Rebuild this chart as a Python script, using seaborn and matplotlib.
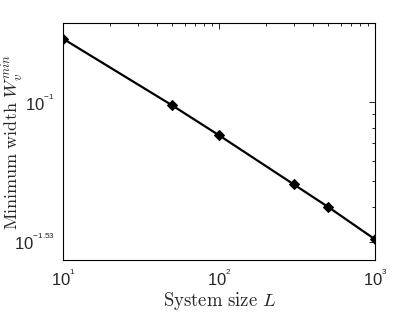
import numpy as np
import pandas as pd
import seaborn as sns
import matplotlib.pyplot as plt
from matplotlib.ticker import FixedLocator, FixedFormatter, LogLocator, NullFormatter

# data
system_size = [10, 50, 100, 300, 500, 1000]
min_width = [0.1745, 0.0974, 0.0749, 0.0488, 0.0400, 0.0301]

x_ticks = [10, 100, 1000]
x_labels = [r'$10^{{}^{1}}$', r'$10^{{}^{2}}$', r'$10^{{}^{3}}$']
y_ticks = [10 ** -1.53, 0.1]
y_labels = [r'$10^{{}^{-1.53}}$', r'$10^{{}^{-1}}$']

df = pd.DataFrame({'L': system_size, 'W': min_width})

sns.set_style('white')
plt.rcParams['font.family'] = ['Liberation Sans', 'DejaVu Sans']
plt.rcParams['mathtext.fontset'] = 'custom'
plt.rcParams['mathtext.rm'] = 'Liberation Sans'
plt.rcParams['mathtext.it'] = 'Liberation Sans:italic'

fig = plt.figure(figsize=(4.15, 3.13), dpi=100)
ax = fig.add_axes([0.152, 0.169, 0.752, 0.756])

sns.lineplot(data=df, x='L', y='W', ax=ax, color='black', linewidth=1.6,
             marker='D', markersize=5.5, markeredgecolor='black')

ax.set_xscale('log')
ax.set_yscale('log')
ax.set_xlim(10, 1000)
ax.set_ylim(10 ** -1.6, 10 ** -0.7)

ax.xaxis.set_major_locator(FixedLocator(x_ticks))
ax.xaxis.set_major_formatter(FixedFormatter(x_labels))
ax.xaxis.set_minor_locator(LogLocator(base=10, subs=np.arange(2, 10)))
ax.xaxis.set_minor_formatter(NullFormatter())
ax.yaxis.set_major_locator(FixedLocator(y_ticks))
ax.yaxis.set_major_formatter(FixedFormatter(y_labels))
ax.yaxis.set_minor_locator(LogLocator(base=10, subs=np.arange(2, 10)))
ax.yaxis.set_minor_formatter(NullFormatter())

ax.tick_params(which='both', direction='in', top=True, right=True, color='black', width=0.6)
ax.tick_params(which='major', length=4, labelsize=12, pad=6)
ax.tick_params(which='minor', length=2.5)
for s in ax.spines.values():
    s.set_color('black')
    s.set_linewidth(0.8)

ax.set_xlabel(r'$\mathrm{System\ size}\ L$', fontsize=13.5, math_fontfamily='cm')
ax.set_ylabel(r'$\mathrm{Minimum\ width}\ W_v^{min}$', fontsize=13, math_fontfamily='cm')
ax.xaxis.set_label_coords(0.5, -0.125)
ax.yaxis.set_label_coords(-0.118, 0.5)

plt.savefig('out.png', dpi=100)
